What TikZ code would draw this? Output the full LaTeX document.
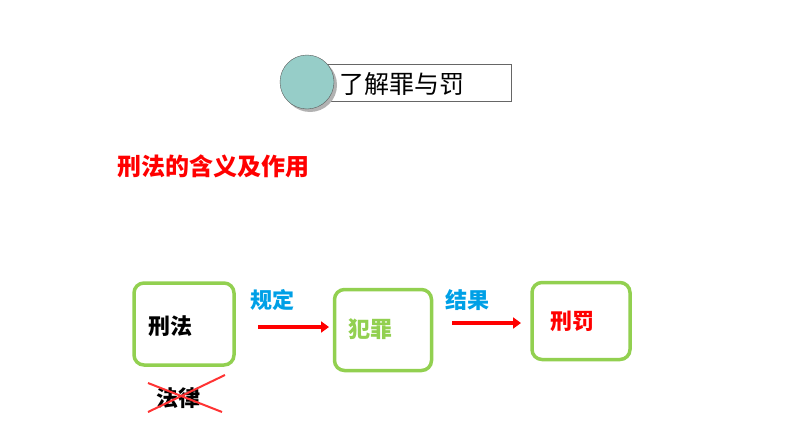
\documentclass[tikz,border=0pt]{standalone}
\usepackage{fontspec}
\newfontfamily\cjk{Noto Sans CJK SC}
\usetikzlibrary{arrows.meta}
\definecolor{grn}{RGB}{146,208,80}
\definecolor{blu}{RGB}{0,160,230}
\definecolor{tealc}{RGB}{150,205,200}
\tikzset{box/.style={draw=grn,line width=3.5pt,rounded corners=10pt},
 lbl/.style={font=\cjk\bfseries\fontsize{22}{22}\selectfont,inner sep=0},
 arr/.style={red,line width=3.5pt,-{Triangle[length=8pt,width=11pt]}}}
\begin{document}
\begin{tikzpicture}[x=1pt,y=-1pt]
\useasboundingbox (0,0) rectangle (794,447);
\node[draw=gray!80!black,line width=0.8pt,minimum width=212pt,minimum height=37pt,inner sep=0] (hdr) at (405,83) {};
\fill[gray!60] (310,85) circle (27);
\node[circle,draw=gray!70!black,fill=tealc,minimum size=54pt,inner sep=0] (circ) at (307,82) {};
\node[font=\cjk\fontsize{25}{25}\selectfont,anchor=west,inner sep=0] (ht) at (339,84) {了解罪与罚};
\node[font=\cjk\bfseries\fontsize{24}{24}\selectfont,text=red,anchor=west,inner sep=0] (title) at (117,166) {刑法的含义及作用};
\node[box,minimum width=100pt,minimum height=82pt] (b1) at (184,324) {};
\node[box,minimum width=97pt,minimum height=81pt] (b2) at (383,330) {};
\node[box,minimum width=98pt,minimum height=77pt] (b3) at (581,321) {};
\node[lbl] (t1) at (170,326) {刑法};
\node[lbl,text=grn] (t2) at (370,329) {犯罪};
\node[lbl,text=red] (t3) at (572,321) {刑罚};
\coordinate (a1) at (258,327); \coordinate (a1e) at (329,327);
\coordinate (a2) at (452,323); \coordinate (a2e) at (521,323);
\draw[arr] (a1) -- (a1e);
\draw[arr] (a2) -- (a2e);
\node[lbl,text=blu] (l1) at (272,300) {规定};
\node[lbl,text=blu] (l2) at (467,300) {结果};
\node[lbl] (fl) at (178,398) {法律};
\draw[red!80!white,line width=2pt] (148,412) -- (225,375) (148,383) -- (222,412);
\end{tikzpicture}
\end{document}
